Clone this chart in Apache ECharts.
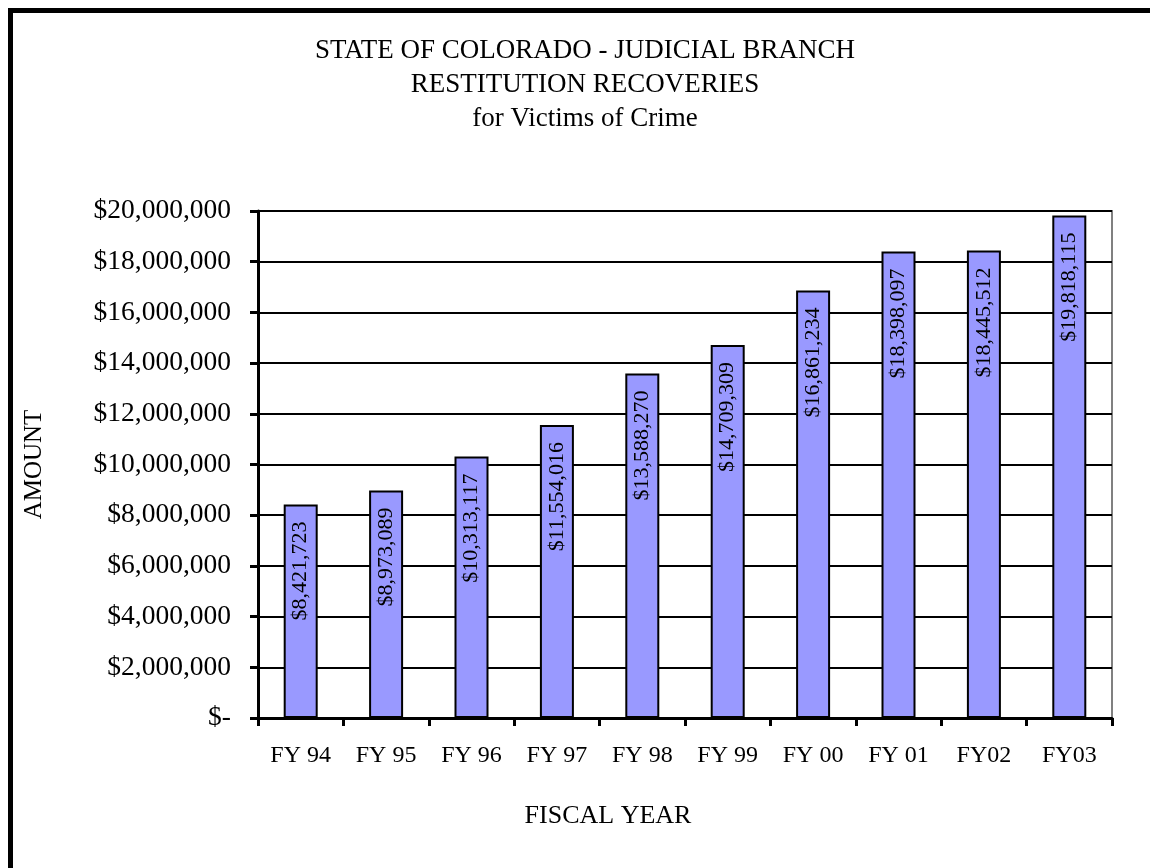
<!DOCTYPE html>
<html>
<head>
<meta charset="utf-8">
<script src="https://cdn.jsdelivr.net/npm/echarts@6/dist/echarts.min.js"></script>
<style>
html,body{margin:0;padding:0;background:#fff;}
#chart{width:1150px;height:868px;}
</style>
</head>
<body>
<div id="chart"></div>
<script>
const categories = ['FY 94','FY 95','FY 96','FY 97','FY 98','FY 99','FY 00','FY 01','FY02','FY03'];
const amounts = [8421723, 8973089, 10313117, 11554016, 13588270, 14709309, 16861234, 18398097, 18445512, 19818115];
const titleLines = ['STATE OF COLORADO - JUDICIAL BRANCH','RESTITUTION RECOVERIES','for Victims of Crime'];
const yAxisTitle = 'AMOUNT';
const xAxisTitle = 'FISCAL YEAR';

const FONT = '"Liberation Serif", "Times New Roman", serif';
function money(v){
  if (v === 0) return '$-';
  return '$' + v.toString().replace(/\B(?=(\d{3})+(?!\d))/g, ',');
}

const titleGraphics = titleLines.map((t, i) => ({
  type:'text', x:585, y:51 + i*34,
  style:{text:t, font:'27px '+FONT, fill:'#000', textAlign:'center', textVerticalAlign:'middle'}
}));

const chart = echarts.init(document.getElementById('chart'), null, {renderer:'canvas'});
chart.setOption({
  animation:false,
  backgroundColor:'#fff',
  textStyle:{fontFamily:FONT, color:'#000'},
  graphic:[
    {type:'rect', shape:{x:10.5, y:10.5, width:1300, height:1000}, style:{fill:'none', stroke:'#000', lineWidth:5}, silent:true},
    ...titleGraphics,
    {type:'text', x:608, y:816, style:{text:xAxisTitle, font:'26px '+FONT, fill:'#000', textAlign:'center', textVerticalAlign:'middle'}}
  ],
  grid:{left:258, top:211, right:38, bottom:150, show:true, borderColor:'#808080', borderWidth:2, backgroundColor:'transparent'},
  xAxis:{
    type:'category', data:categories, boundaryGap:true,
    axisLine:{lineStyle:{color:'#000', width:3}},
    axisTick:{show:true, length:8, lineStyle:{color:'#000', width:3}},
    axisLabel:{fontFamily:FONT, fontSize:24, color:'#000', margin:26}
  },
  yAxis:{
    type:'value', min:0, max:20000000, interval:2000000,
    name:yAxisTitle, nameLocation:'middle', nameRotate:90, nameGap:211,
    nameTextStyle:{fontFamily:FONT, fontSize:25, color:'#000'},
    axisLine:{show:true, lineStyle:{color:'#000', width:3}},
    axisTick:{show:true, length:8, lineStyle:{color:'#000', width:3}},
    splitLine:{show:true, lineStyle:{color:'#000', width:2}},
    axisLabel:{fontFamily:FONT, fontSize:27.5, color:'#000', margin:27, formatter:money}
  },
  series:[{
    type:'bar', data:amounts, barWidth:34,
    itemStyle:{color:'#9999FF', borderColor:'#000', borderWidth:2},
    label:{show:true, position:'insideTop', rotate:90, align:'right', verticalAlign:'middle', distance:17,
      fontFamily:FONT, fontSize:22, color:'#000', formatter:p=>money(p.value)}
  }]
});
</script>
</body>
</html>
